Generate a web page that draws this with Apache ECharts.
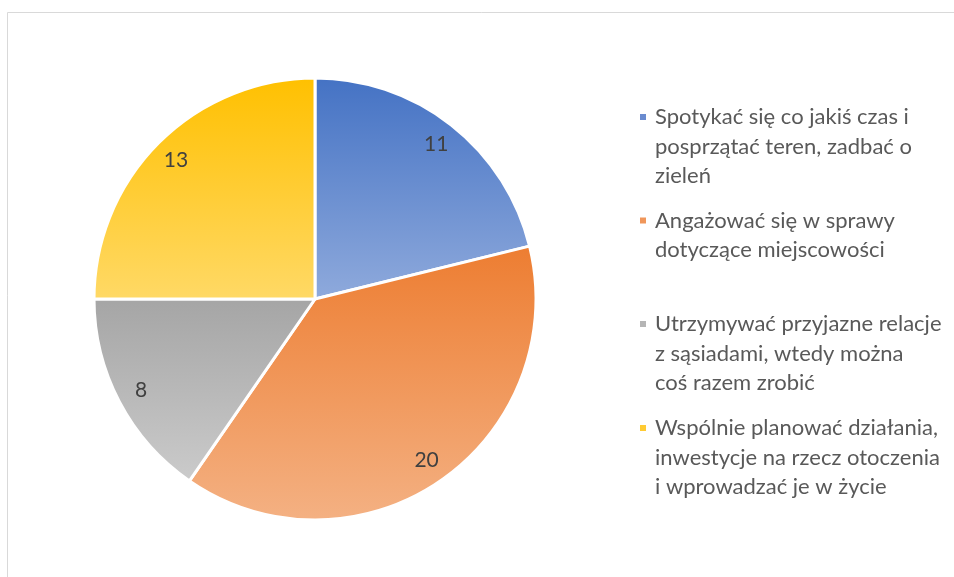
<!DOCTYPE html>
<html>
<head>
<meta charset="utf-8">
<script src="https://cdn.jsdelivr.net/npm/echarts@6/dist/echarts.min.js"></script>
<style>
  html, body { margin: 0; padding: 0; background: #fff; }
  #chart { width: 954px; height: 577px; }
</style>
</head>
<body>
<div id="chart"></div>
<script>
// dane wykresu
const categories = [
  "Spotykać się co jakiś czas i posprzątać teren, zadbać o zieleń",
  "Angażować się w sprawy dotyczące miejscowości",
  "Utrzymywać przyjazne relacje z sąsiadami, wtedy można coś razem zrobić",
  "Wspólnie planować działania, inwestycje na rzecz otoczenia i wprowadzać je w życie"
];
const values = [11, 20, 8, 13];
// zawijanie tekstu w legendzie (jak w oryginale)
const legendLines = [
  ["Spotykać się co jakiś czas i", "posprzątać teren, zadbać o", "zieleń"],
  ["Angażować się w sprawy", "dotyczące miejscowości"],
  ["Utrzymywać przyjazne relacje", "z sąsiadami, wtedy można", "coś razem zrobić"],
  ["Wspólnie planować działania,", "inwestycje na rzecz otoczenia", "i wprowadzać je w życie"]
];

// kolory gradientu: góra -> dół
const gradColors = [
  ["#4472C4", "#8FAADC"],
  ["#ED7D31", "#F4B183"],
  ["#A5A5A5", "#CBCBCB"],
  ["#FFC000", "#FFD966"]
];
const iconColors = ["#6A8BCF", "#F0965A", "#B5B5B5", "#FFCB33"];

const FONT = "Lato";
const LH = 29.5;          // wysokość linii legendy
const ICON = 8;
const ICON_BOX_W = 11;    // ikonka + odstęp do tekstu
const iconCenterY = [116, 219.5, 323, 427];
const R = 221;

const chart = echarts.init(document.getElementById("chart"));

const pieData = values.map((v, i) => ({
  name: categories[i],
  value: v,
  itemStyle: {
    color: new echarts.graphic.LinearGradient(0, 0, 0, 1, [
      { offset: 0, color: gradColors[i][0] },
      { offset: 1, color: gradColors[i][1] }
    ])
  }
}));

// osobna legenda dla każdej pozycji; ikonka jako ścieżka o wysokości całego
// bloku tekstu, z kwadratem na wysokości pierwszej linii
const legends = categories.map((name, i) => {
  const h = legendLines[i].length * LH;
  const y0 = LH / 2 - ICON / 2;
  const icon = "path://M0,0 M" + ICON_BOX_W + "," + h +
    " M0," + y0 + " h" + ICON + " v" + ICON + " h-" + ICON + " Z";
  return {
    data: [{ name: name, icon: icon, itemStyle: { color: iconColors[i] } }],
    orient: "vertical",
    left: 638,
    top: iconCenterY[i] - LH / 2,
    padding: 0,
    itemWidth: ICON_BOX_W,
    itemHeight: h,
    selectedMode: false,
    formatter: () => legendLines[i].join("\n"),
    textStyle: {
      color: "#595959",
      fontSize: 22,
      fontFamily: FONT,
      lineHeight: LH
    }
  };
});

chart.setOption({
  backgroundColor: "#fff",
  animation: false,
  graphic: [
    {
      type: "rect",
      shape: { x: 7.5, y: 12.5, width: 1000, height: 1000 },
      style: { fill: "none", stroke: "#D9D9D9", lineWidth: 1 },
      silent: true
    }
  ],
  legend: legends,
  series: [
    {
      type: "pie",
      center: [315, 299],
      radius: [0, R],
      startAngle: 90,
      clockwise: true,
      label: { show: false },
      labelLine: { show: false },
      itemStyle: { borderColor: "#fff", borderWidth: 3 },
      emphasis: { disabled: true },
      data: pieData
    },
    {
      // przezroczysta warstwa tylko na etykiety danych
      type: "pie",
      center: [315, 299],
      radius: [166, R],
      startAngle: 90,
      clockwise: true,
      silent: true,
      itemStyle: { color: "transparent" },
      label: {
        show: true,
        position: "inside",
        formatter: "{c}",
        color: "#404040",
        fontSize: 21,
        fontFamily: FONT
      },
      labelLine: { show: false },
      emphasis: { disabled: true },
      data: values.map((v, i) => ({ name: categories[i], value: v }))
    }
  ]
});
</script>
</body>
</html>
